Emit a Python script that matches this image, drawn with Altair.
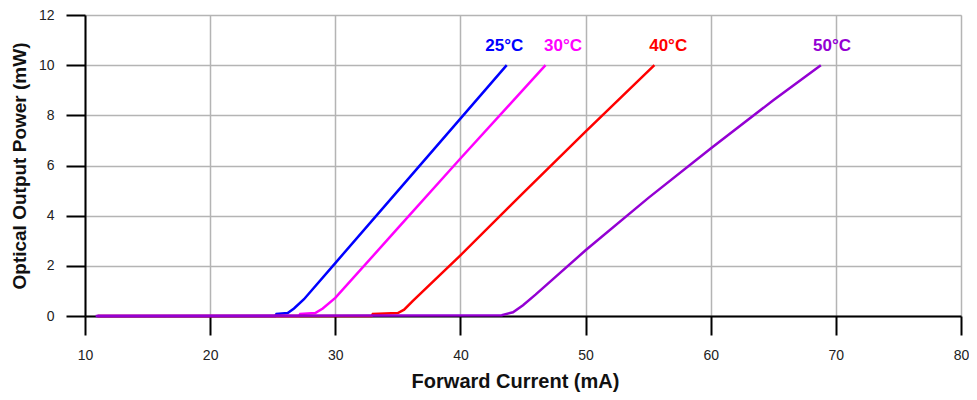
import altair as alt
import pandas as pd

# Series data (Forward Current mA, Optical Output Power mW)
x25 = [11.0, 25.2, 25.3, 26.2, 26.7, 27.5, 30.0, 35.0, 40.0, 43.7]
y25 = [0.0, 0.0, 0.08, 0.12, 0.30, 0.67, 2.11, 4.99, 7.87, 10.0]
x30 = [11.0, 27.1, 27.2, 28.4, 29.0, 30.0, 35.0, 40.0, 46.8]
y30 = [0.0, 0.0, 0.08, 0.12, 0.30, 0.72, 3.50, 6.28, 10.0]
x40 = [11.0, 32.9, 33.0, 35.0, 35.5, 36.2, 40.0, 45.0, 50.0, 55.5]
y40 = [0.0, 0.0, 0.08, 0.12, 0.25, 0.60, 2.42, 4.90, 7.35, 10.0]
x50 = [10.85, 43.3, 44.2, 45.0, 46.0, 50.0, 55.0, 60.0, 65.0, 68.8]
y50 = [0.0, 0.03, 0.15, 0.43, 0.85, 2.62, 4.70, 6.68, 8.60, 10.0]

series = ["25°C", "30°C", "40°C", "50°C"]
colors = ["#0000ff", "#ff00ff", "#ff0000", "#9400d3"]

label_x = [43.5, 48.2, 56.6, 69.7]
label_y = [10.77, 10.77, 10.77, 10.77]

rows = []
for name, xs, ys in zip(series, [x25, x30, x40, x50], [y25, y30, y40, y50]):
    for a, b in zip(xs, ys):
        rows.append({"series": name, "current": a, "power": b})
df = pd.DataFrame(rows)
labels = pd.DataFrame({"series": series, "x": label_x, "y": label_y})

color_scale = alt.Scale(domain=series, range=colors)

x_axis = alt.Axis(
    title="Forward Current (mA)", values=[10, 20, 30, 40, 50, 60, 70, 80],
    grid=True, gridColor="#b4b4b4", gridWidth=1.5, labelFlush=False,
    domainColor="black", domainWidth=2, tickColor="black", tickWidth=2, tickSize=19,
    labelFont="Liberation Sans", labelFontSize=14, labelColor="#222222", labelPadding=13,
    titleFont="Liberation Sans", titleFontSize=20, titleFontWeight="bold", titleColor="#111111",
    titleBaseline="alphabetic", titleY=71, titleX=430, titleAlign="center",
)
y_axis = alt.Axis(
    title="Optical Output Power (mW)", values=[0, 2, 4, 6, 8, 10, 12],
    grid=True, gridColor="#b4b4b4", gridWidth=1.5, labelFlush=False,
    domainColor="black", domainWidth=2, tickColor="black", tickWidth=2, tickSize=19,
    labelFont="Liberation Sans", labelFontSize=14, labelColor="#222222", labelPadding=12,
    titleFont="Liberation Sans", titleFontSize=19, titleFontWeight="bold", titleColor="#111111",
    titleBaseline="alphabetic", titleX=-60,
)

lines = alt.Chart(df).mark_line(strokeWidth=2.5).encode(
    x=alt.X("current:Q", scale=alt.Scale(domain=[10, 80], nice=False, zero=False), axis=x_axis),
    y=alt.Y("power:Q", scale=alt.Scale(domain=[0, 12], nice=False), axis=y_axis),
    color=alt.Color("series:N", scale=color_scale, legend=None),
    detail="series:N",
)

texts = alt.Chart(labels).mark_text(
    font="Liberation Sans", fontSize=17, fontWeight="bold", baseline="middle", align="center"
).encode(
    x="x:Q", y="y:Q", text="series:N",
    color=alt.Color("series:N", scale=color_scale, legend=None),
)

chart = (lines + texts).properties(
    width=876, height=301,
    autosize=alt.AutoSizeParams(type="none"),
    padding={"left": 77, "top": 7, "right": 8, "bottom": 76},
).configure_view(stroke="black", strokeWidth=2).configure(background="white")

chart.save("out.html", embed_options={"renderer": "svg", "actions": False})
